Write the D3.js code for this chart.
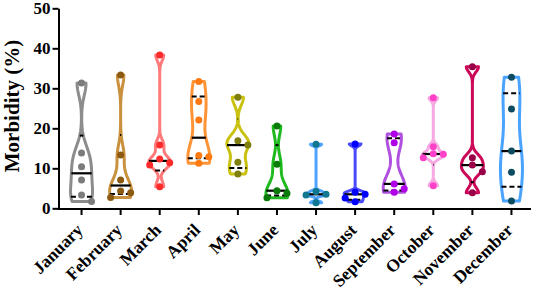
<!DOCTYPE html>
<html>
<head>
<meta charset="utf-8">
<script src="https://cdn.jsdelivr.net/npm/d3@7"></script>
<style>
  body { margin: 0; background: #fff; }
  svg { display: block; }
</style>
</head>
<body>
<div id="chart"></div>
<script>
// months on the x axis
const months = ["January", "February", "March", "April", "May", "June",
  "July", "August", "September", "October", "November", "December"];

// morbidity (%) per month, one value per year
const jan = [31.3, 13.8, 10.4, 7.1, 3.3, 1.7];
const feb = [33.3, 13.3, 7.1, 4.3, 3.9, 2.7];
const mar = [38.3, 15.8, 12.3, 11.4, 10.8, 5.4];
const apr = [31.7, 26.7, 22.1, 13.2, 12.9, 11.25];
const may = [27.75, 16.9, 15.8, 11.5, 8.6];
const jun = [20.6, 11.0, 4.4, 3.75, 2.65];
const jul = [16.0, 4.2, 3.5, 3.3, 1.4];
const aug = [16.1, 4.0, 3.5, 2.6, 1.65];
const sep = [18.6, 16.4, 6.1, 4.9, 4.0];
const oct = [27.65, 15.4, 13.65, 13.5, 12.65, 5.65];
const nov = [35.4, 12.65, 10.8, 9.15, 3.9];
const dec = [32.75, 24.8, 14.3, 9.0, 1.8];
const monthValues = [jan, feb, mar, apr, may, jun, jul, aug, sep, oct, nov, dec];

const yTicks = [0, 10, 20, 30, 40, 50];

const violinColors = ["#8c8c8c", "#c9913d", "#ff7b7b", "#ff9436", "#c9c10f", "#1fba1f",
  "#4da3ff", "#4a4aff", "#b050e0", "#f5a8e2", "#cc0858", "#4aa3ff"];
const dotColors = ["#7b7b7b", "#8b5a10", "#ff2a2a", "#ff7a12", "#7f7f10", "#0a7a0a",
  "#107890", "#0000ff", "#b000e8", "#ff40c8", "#9a0048", "#0b4c60"];

const W = 536, H = 297;
const svg = d3.select("#chart").append("svg")
  .attr("width", W)
  .attr("height", H);

const x = d3.scaleBand().domain(months).range([62, 531]);
const y = d3.scaleLinear().domain([0, 50]).range([208.3, 8.3]);

const FONT = "'Liberation Serif', 'Times New Roman', serif";

// prism style percentile, (n+1)p
function pct(sorted, p) {
  const n = sorted.length;
  let pos = (n + 1) * p;
  pos = Math.max(1, Math.min(n, pos));
  const lo = Math.floor(pos), hi = Math.ceil(pos);
  return sorted[lo - 1] + (pos - lo) * (sorted[hi - 1] - sorted[lo - 1]);
}

// gaussian kde, silverman bandwidth (a bit tighter)
function kde(vals) {
  const s = vals.slice().sort(d3.ascending);
  const sd = d3.deviation(s);
  const iqr = d3.quantile(s, 0.75) - d3.quantile(s, 0.25);
  const h = 0.75 * 0.9 * Math.min(sd, iqr / 1.34) * Math.pow(s.length, -0.2);
  return v => d3.sum(s, d => Math.exp(-0.5 * ((v - d) / h) ** 2));
}

const halfMax = 11;

monthValues.forEach((vals, i) => {
  const cx = x(months[i]) + x.bandwidth() / 2;
  const sorted = vals.slice().sort(d3.ascending);
  const lo = sorted[0], hi = sorted[sorted.length - 1];
  const dens = kde(vals);
  const grid = d3.range(0, 81).map(k => lo + (hi - lo) * k / 80);
  const dmax = d3.max(grid, dens);
  const w = v => dens(v) / dmax * halfMax;

  const pts = grid.map(v => [cx + w(v), y(v)])
    .concat(grid.slice().reverse().map(v => [cx - w(v), y(v)]));

  const g = svg.append("g");
  g.append("path")
    .attr("d", d3.line()(pts) + "Z")
    .attr("fill", "#fff")
    .attr("stroke", violinColors[i])
    .attr("stroke-width", 3)
    .attr("stroke-linejoin", "round");

  // median + quartiles
  const med = pct(sorted, 0.5), q1 = pct(sorted, 0.25), q3 = pct(sorted, 0.75);
  [q1, q3].forEach(q => {
    g.append("line")
      .attr("x1", cx - w(q)).attr("x2", cx + w(q))
      .attr("y1", y(q)).attr("y2", y(q))
      .attr("stroke", "#000")
      .attr("stroke-width", 2)
      .attr("stroke-dasharray", "5,3");
  });
  g.append("line")
    .attr("x1", cx - w(med)).attr("x2", cx + w(med))
    .attr("y1", y(med)).attr("y2", y(med))
    .attr("stroke", "#000")
    .attr("stroke-width", 2.2);

  // simple beeswarm: center, right, left
  const placed = [];
  const offs = [0, 10, -10, 20, -20];
  vals.slice().sort(d3.descending).forEach(v => {
    const py = y(v);
    const off = offs.find(o => !placed.some(p => p.o === o && Math.abs(p.y - py) < 7));
    placed.push({ o: off, y: py });
  });
  g.selectAll("circle")
    .data(placed)
    .join("circle")
    .attr("cx", d => cx + d.o)
    .attr("cy", d => d.y)
    .attr("r", 3.5)
    .attr("fill", dotColors[i]);
});

// y axis
const yAxis = svg.append("g")
  .attr("transform", "translate(58.5,0)")
  .call(d3.axisLeft(y).tickValues(yTicks).tickSize(6).tickPadding(2).tickSizeOuter(0));
yAxis.select(".domain").attr("stroke-width", 2);
yAxis.selectAll(".tick line").attr("stroke-width", 2);
yAxis.selectAll("text")
  .attr("font-family", FONT)
  .attr("font-weight", "bold")
  .attr("font-size", 17)
  .attr("fill", "#000");

// x axis
svg.append("line")
  .attr("x1", 57.5).attr("x2", 531)
  .attr("y1", 209).attr("y2", 209)
  .attr("stroke", "#000")
  .attr("stroke-width", 2);
const xAxis = svg.append("g")
  .attr("transform", "translate(0,209)")
  .call(d3.axisBottom(x).tickSize(6).tickSizeOuter(0));
xAxis.select(".domain").remove();
xAxis.selectAll(".tick line").attr("stroke-width", 2);
xAxis.selectAll("text")
  .attr("x", 0).attr("y", 0).attr("dy", 0)
  .attr("transform", "translate(2.5,22) rotate(-45)")
  .attr("text-anchor", "end")
  .attr("font-family", FONT)
  .attr("font-weight", "bold")
  .attr("font-size", 17.5)
  .attr("fill", "#000");

// y title
svg.append("text")
  .attr("transform", "translate(19,106) rotate(-90)")
  .attr("text-anchor", "middle")
  .attr("font-family", FONT)
  .attr("font-weight", "bold")
  .attr("font-size", 21)
  .text("Morbidity (%)");
</script>
</body>
</html>
